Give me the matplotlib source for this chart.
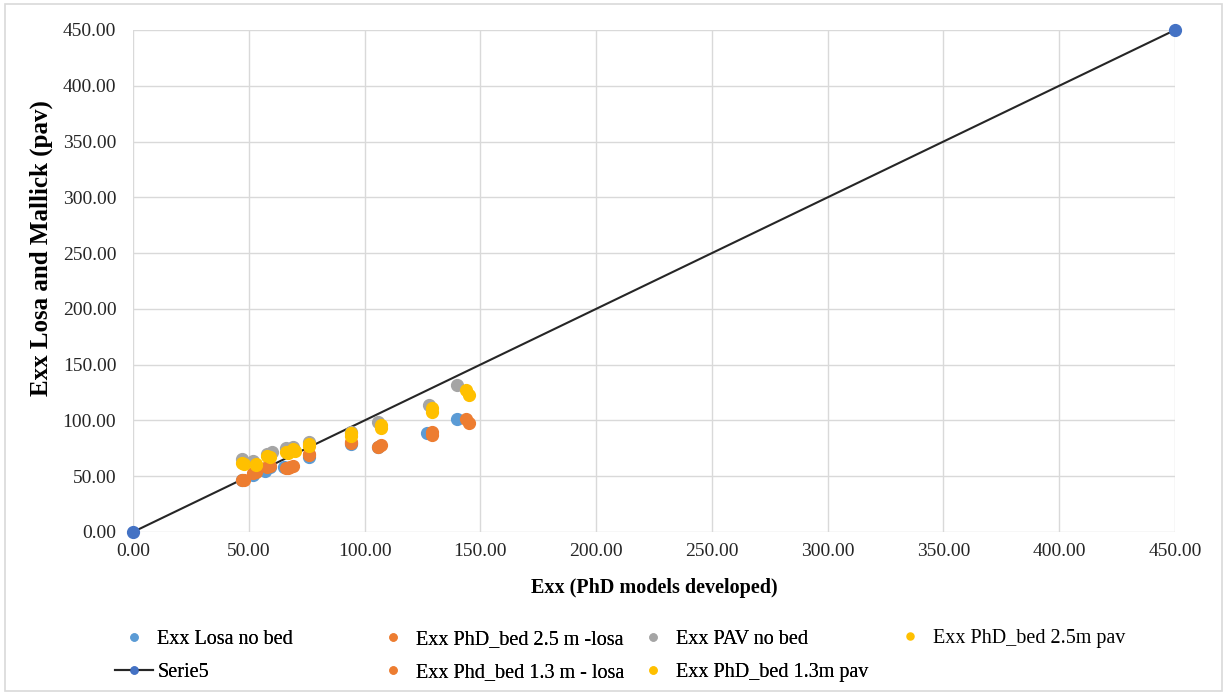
import matplotlib.pyplot as plt
from matplotlib.patches import Rectangle
from matplotlib.ticker import MultipleLocator, FormatStrFormatter

# Series data (x = PhD models, y = Losa and Mallick)
losa_x = [47, 52, 57, 59, 65, 76, 94, 106, 127, 140]
losa_y = [47, 51, 55, 58, 58, 67, 79, 76, 89, 101]

bed25_losa_x = [47, 52, 58, 66, 68, 76, 94, 107, 129, 144]
bed25_losa_y = [47, 53, 58, 57, 58, 69, 81, 78, 90, 101]

pav_x = [47, 52, 58, 60, 66, 69, 76, 94, 106, 128, 140]
pav_y = [65, 64, 70, 72, 75, 76, 81, 90, 99, 114, 132]

bed25_pav_x = [47, 53, 58, 66, 69, 76, 94, 107, 129, 144]
bed25_pav_y = [62, 61, 68, 72, 74, 79, 89, 96, 111, 127]

serie5_x = [0, 450]
serie5_y = [0, 450]

bed13_losa_x = [48, 53, 59, 67, 69, 76, 94, 106, 129, 145]
bed13_losa_y = [47, 54, 59, 57, 59, 70, 80, 76, 87, 98]

bed13_pav_x = [48, 53, 59, 67, 70, 76, 94, 107, 129, 145]
bed13_pav_y = [61, 60, 67, 71, 73, 77, 86, 93, 108, 123]

plt.rcParams['font.family'] = ['Liberation Serif', 'DejaVu Serif']

W, H = 1227, 695
fig = plt.figure(figsize=(W / 100, H / 100), dpi=100)
fig.patches.append(Rectangle((0.004, 0.006), 0.992, 0.988, transform=fig.transFigure,
                             fill=False, edgecolor='#D9D9D9', linewidth=1.2))
ax = fig.add_axes([133 / W, 1 - 532 / H, 1042 / W, 502 / H])

ms = 8.5
h5, = ax.plot(serie5_x, serie5_y, color='#262626', linewidth=1.5, marker='o',
              markersize=ms, markerfacecolor='#4472C4', markeredgecolor='#4472C4',
              label='Serie5', zorder=2, clip_on=False)
h1, = ax.plot(losa_x, losa_y, 'o', color='#5B9BD5', markersize=ms, label='Exx Losa no bed', zorder=3)
h2, = ax.plot(bed25_losa_x, bed25_losa_y, 'o', color='#ED7D31', markersize=ms, label='Exx PhD_bed 2.5 m -losa', zorder=3)
h3, = ax.plot(pav_x, pav_y, 'o', color='#A5A5A5', markersize=ms, label='Exx PAV no bed', zorder=3)
h4, = ax.plot(bed25_pav_x, bed25_pav_y, 'o', color='#FFC000', markersize=ms, label='Exx PhD_bed 2.5m pav', zorder=3)
h6, = ax.plot(bed13_losa_x, bed13_losa_y, 'o', color='#ED7D31', markersize=ms, label='Exx Phd_bed 1.3 m - losa', zorder=3)
h7, = ax.plot(bed13_pav_x, bed13_pav_y, 'o', color='#FFC000', markersize=ms, label='Exx PhD_bed 1.3m pav', zorder=3)

ax.set_xlim(0, 450)
ax.set_ylim(0, 450)
ax.xaxis.set_major_locator(MultipleLocator(50))
ax.yaxis.set_major_locator(MultipleLocator(50))
ax.xaxis.set_major_formatter(FormatStrFormatter('%.2f'))
ax.yaxis.set_major_formatter(FormatStrFormatter('%.2f'))
ax.grid(True, color='#D9D9D9', linewidth=1)
ax.set_axisbelow(True)
for s in ax.spines.values():
    s.set_visible(False)
ax.tick_params(length=0, labelsize=14, labelcolor='#262626')
ax.tick_params(axis='x', pad=8)
ax.tick_params(axis='y', pad=12)
ax.set_xlabel('Exx (PhD models developed)', fontsize=14.5, fontweight='bold', labelpad=13)
ax.set_ylabel('Exx Losa and Mallick (pav)', fontsize=18, fontweight='bold')
ax.yaxis.set_label_coords(-0.077, 0.566)

# legend laid out column by column like the Excel original
columns = [([h1, h5], 105), ([h2, h6], 364), ([h3, h7], 624)]
for hs, xpix in columns:
    lg = fig.legend(hs, [h.get_label() for h in hs], loc='center left',
                    bbox_to_anchor=(xpix / W, 1 - 656 / H), frameon=False,
                    fontsize=14.5, markerscale=0.6, handlelength=1.9,
                    handletextpad=0.2, borderpad=0, labelspacing=0.7)
    fig.add_artist(lg)
fig.legend([h4], [h4.get_label()], loc='center left',
           bbox_to_anchor=(881 / W, 1 - 638 / H), frameon=False,
           fontsize=14.5, markerscale=0.6, handlelength=1.9,
           handletextpad=0.2, borderpad=0)

fig.savefig('out.png', dpi=100)
